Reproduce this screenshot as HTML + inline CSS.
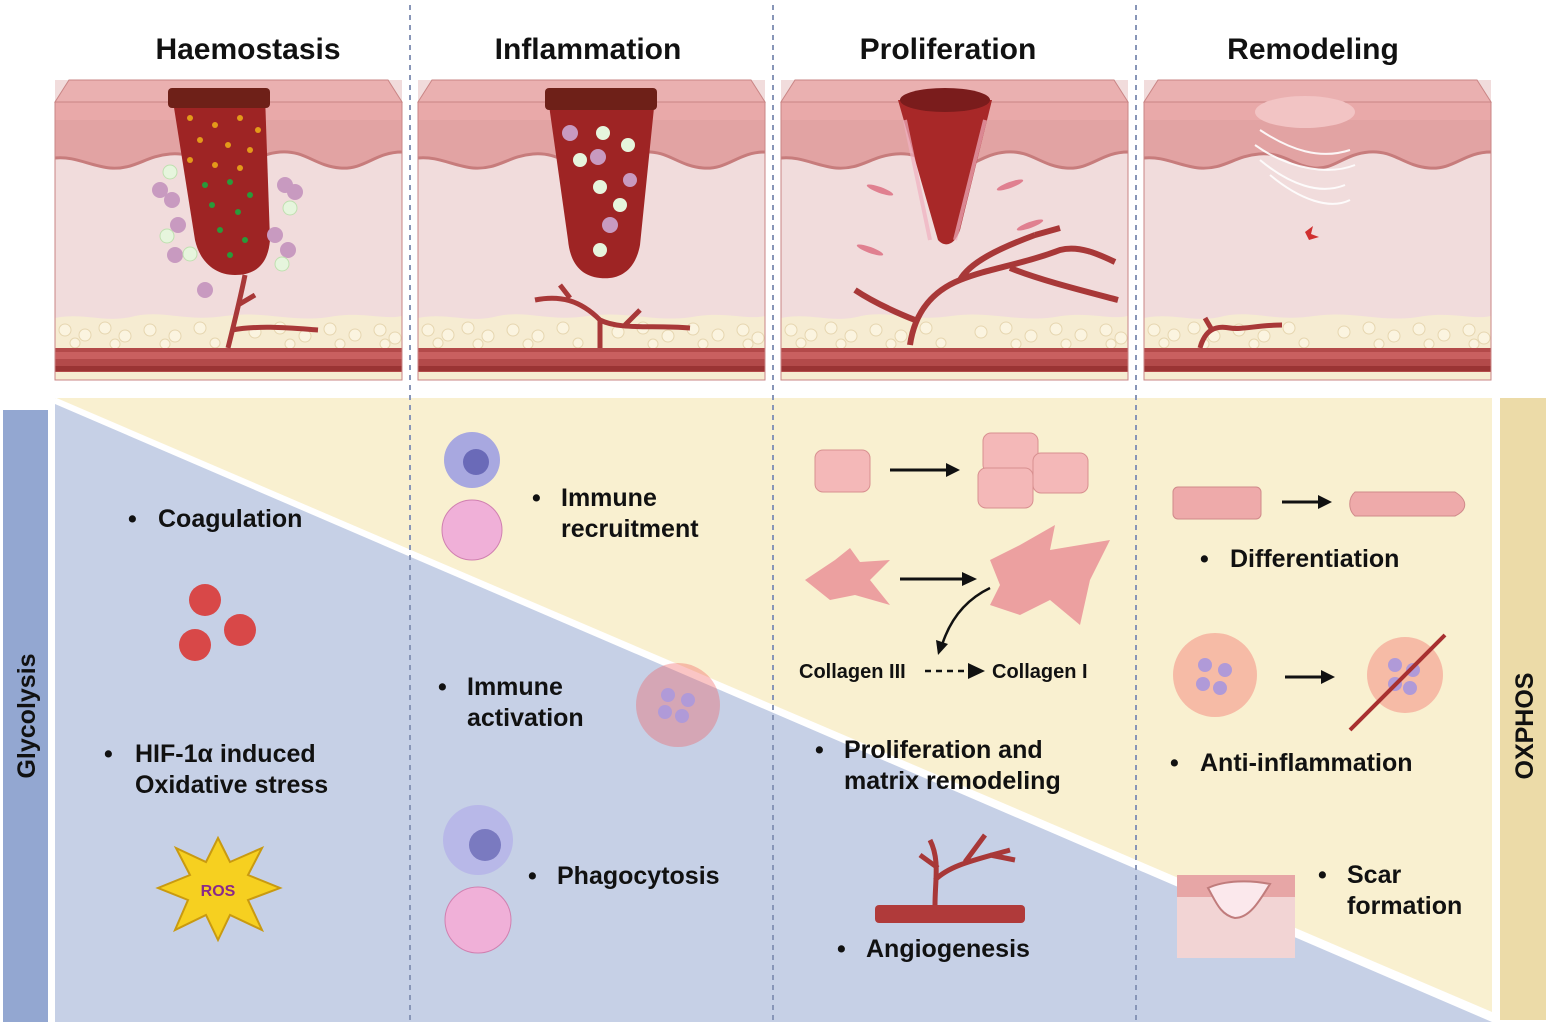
<!DOCTYPE html>
<html><head><meta charset="utf-8"><style>
body{margin:0;background:#fff;}
svg{display:block}
text{font-family:"Liberation Sans",sans-serif;font-weight:bold;}
</style></head><body>
<svg width="1549" height="1027" viewBox="0 0 1549 1027" xmlns="http://www.w3.org/2000/svg">
<defs>
<g id="skin">
  <rect x="0" y="0" width="347" height="300" fill="#f1dcdc"/>
  <polygon points="14,0 333,0 347,22 0,22" fill="#eab0b0" stroke="#c98585" stroke-width="1"/>
  <rect x="0" y="22" width="347" height="18" fill="#e9a9a9"/>
  <path d="M0,40 H347 V72 C320,72 310,90 285,88 C260,86 250,70 225,72 C200,74 190,90 170,88 C150,86 140,72 115,74 C90,76 80,90 55,88 C35,86 20,76 0,78 Z" fill="#e2a3a3"/>
  <path d="M0,78 C20,76 35,86 55,88 C80,90 90,76 115,74 C140,72 150,86 170,88 C190,90 200,74 225,72 C250,70 260,86 285,88 C310,90 320,72 347,72" fill="none" stroke="#c77c7c" stroke-width="3"/>
  <path d="M0,238 C30,232 50,244 80,236 C110,230 130,242 170,236 C210,230 240,244 280,236 C310,232 330,240 347,236 V270 H0 Z" fill="#f6ecd2"/>
  <g fill="#fbf4e0" stroke="#e6d6b0" stroke-width="1">
    <circle cx="10" cy="250" r="6"/><circle cx="30" cy="255" r="6"/><circle cx="50" cy="248" r="6"/><circle cx="70" cy="256" r="6"/><circle cx="95" cy="250" r="6"/><circle cx="120" cy="256" r="6"/><circle cx="145" cy="248" r="6"/><circle cx="200" cy="252" r="6"/><circle cx="225" cy="248" r="6"/><circle cx="250" cy="256" r="6"/><circle cx="275" cy="249" r="6"/><circle cx="300" cy="255" r="6"/><circle cx="325" cy="250" r="6"/><circle cx="340" cy="258" r="6"/>
    <circle cx="20" cy="263" r="5"/><circle cx="60" cy="264" r="5"/><circle cx="110" cy="264" r="5"/><circle cx="160" cy="263" r="5"/><circle cx="235" cy="264" r="5"/><circle cx="285" cy="264" r="5"/><circle cx="330" cy="264" r="5"/>
  </g>
  <rect x="0" y="268" width="347" height="24" fill="#b34a4a"/>
  <rect x="0" y="272" width="347" height="7" fill="#c96060"/>
  <rect x="0" y="286" width="347" height="5" fill="#9a3434"/>
  <rect x="0" y="292" width="347" height="8" fill="#f6ecd2"/>
  <rect x="0" y="22" width="347" height="278" fill="none" stroke="#c98585" stroke-width="1"/>
</g>
</defs>

<!-- titles -->
<text x="248" y="59" font-size="30" text-anchor="middle" fill="#111">Haemostasis</text>
<text x="588" y="59" font-size="30" text-anchor="middle" fill="#111">Inflammation</text>
<text x="948" y="59" font-size="30" text-anchor="middle" fill="#111">Proliferation</text>
<text x="1313" y="59" font-size="30" text-anchor="middle" fill="#111">Remodeling</text>

<!-- bottom areas -->
<rect x="3" y="410" width="45" height="612" fill="#93a7d1"/>
<text transform="translate(35,716) rotate(-90)" font-size="25" text-anchor="middle" fill="#111">Glycolysis</text>
<rect x="1500" y="398" width="46" height="622" fill="#ecdba8"/>
<text transform="translate(1533,726) rotate(-90)" font-size="25" text-anchor="middle" fill="#111">OXPHOS</text>
<polygon points="55,398 1492,398 1492,1012" fill="#f9f0d0"/>
<polygon points="55,404 1492,1022 55,1022" fill="#c6d0e6"/>
<line x1="55" y1="400" x2="1492" y2="1017" stroke="#fff" stroke-width="5"/>

<!-- skin panels -->
<use href="#skin" x="55" y="80"/>
<use href="#skin" x="418" y="80"/>
<use href="#skin" x="781" y="80"/>
<use href="#skin" x="1144" y="80"/>

<!-- panel 1 wound -->
<path d="M172,95 L265,95 L270,240 C268,265 255,275 235,275 C215,275 200,262 195,240 Z" fill="#9e2424"/>
<rect x="168" y="88" width="102" height="20" rx="4" fill="#6e2018"/>
<g fill="#e39a1a"><circle cx="190" cy="118" r="3"/><circle cx="215" cy="125" r="3"/><circle cx="240" cy="118" r="3"/><circle cx="258" cy="130" r="3"/><circle cx="200" cy="140" r="3"/><circle cx="228" cy="145" r="3"/><circle cx="250" cy="150" r="3"/><circle cx="190" cy="160" r="3"/><circle cx="215" cy="165" r="3"/><circle cx="240" cy="168" r="3"/></g>
<g fill="#2a9a3a"><circle cx="205" cy="185" r="3"/><circle cx="230" cy="182" r="3"/><circle cx="250" cy="195" r="3"/><circle cx="212" cy="205" r="3"/><circle cx="238" cy="212" r="3"/><circle cx="220" cy="230" r="3"/><circle cx="245" cy="240" r="3"/><circle cx="230" cy="255" r="3"/></g>
<g fill="#c89ac0"><circle cx="160" cy="190" r="8"/><circle cx="172" cy="200" r="8"/><circle cx="178" cy="225" r="8"/><circle cx="175" cy="255" r="8"/><circle cx="285" cy="185" r="8"/><circle cx="295" cy="192" r="8"/><circle cx="275" cy="235" r="8"/><circle cx="288" cy="250" r="8"/><circle cx="205" cy="290" r="8"/></g>
<g fill="#e6f5dd" stroke="#bfe0b0"><circle cx="170" cy="172" r="7"/><circle cx="167" cy="236" r="7"/><circle cx="190" cy="254" r="7"/><circle cx="290" cy="208" r="7"/><circle cx="282" cy="264" r="7"/></g>
<path d="M245,275 C240,300 235,320 228,348 M238,305 L255,295 M232,330 C260,325 290,328 318,330" stroke="#a83838" stroke-width="5" fill="none"/>

<!-- panel 2 wound -->
<path d="M548,98 L655,98 L640,245 C635,272 618,280 600,278 C580,276 570,262 568,240 Z" fill="#9e2424"/>
<rect x="545" y="88" width="112" height="22" rx="4" fill="#6e2018"/>
<g fill="#c89ac0"><circle cx="570" cy="133" r="8"/><circle cx="598" cy="157" r="8"/><circle cx="610" cy="225" r="8"/><circle cx="630" cy="180" r="7"/></g>
<g fill="#e6f5dd"><circle cx="603" cy="133" r="7"/><circle cx="580" cy="160" r="7"/><circle cx="628" cy="145" r="7"/><circle cx="600" cy="187" r="7"/><circle cx="620" cy="205" r="7"/><circle cx="600" cy="250" r="7"/></g>
<path d="M535,300 C560,295 580,300 600,320 C620,330 650,325 690,328 M600,320 L600,348 M570,298 L560,285 M625,325 L640,310" stroke="#a83838" stroke-width="5" fill="none"/>

<!-- panel 3 wound -->
<path d="M898,100 L992,100 L960,230 C955,245 945,248 938,240 Z" fill="#a82828"/>
<ellipse cx="945" cy="100" rx="45" ry="12" fill="#7a1c1c"/>
<path d="M905,120 L930,240" stroke="#f0b0c0" stroke-width="4" opacity=".7"/>
<path d="M985,120 L955,240" stroke="#f0b0c0" stroke-width="4" opacity=".7"/>
<path d="M910,345 C915,310 935,290 960,280 C990,268 1020,265 1060,250 C1080,245 1100,255 1115,262 M960,280 C970,262 1000,248 1035,235 M915,320 C890,310 870,300 855,290 M1010,268 C1040,280 1080,290 1118,300 M1035,235 L1060,228" stroke="#a83838" stroke-width="6" fill="none"/>
<g fill="#e08090"><ellipse cx="880" cy="190" rx="14" ry="3" transform="rotate(20 880 190)"/><ellipse cx="1010" cy="185" rx="14" ry="3" transform="rotate(-20 1010 185)"/><ellipse cx="1030" cy="225" rx="14" ry="3" transform="rotate(-20 1030 225)"/><ellipse cx="870" cy="250" rx="14" ry="3" transform="rotate(20 870 250)"/></g>

<!-- panel 4 -->
<ellipse cx="1305" cy="112" rx="50" ry="16" fill="#f2c4c4"/>
<g stroke="#fff" stroke-width="2" fill="none" opacity=".9"><path d="M1260,130 C1290,150 1320,160 1350,150"/><path d="M1255,145 C1290,170 1330,175 1355,165"/><path d="M1260,160 C1290,185 1320,195 1345,185"/><path d="M1270,175 C1300,200 1330,210 1350,200"/></g>
<path d="M1305,232 l8,-6 l-2,8 l8,3 l-10,3 z" fill="#d03030"/>
<path d="M1200,348 C1205,330 1215,325 1230,328 C1240,330 1260,325 1282,325 M1212,330 L1205,318" stroke="#a83838" stroke-width="5" fill="none"/>

<!-- dashed dividers -->
<g stroke="#8896b8" stroke-width="2" stroke-dasharray="5,5"><line x1="410" y1="5" x2="410" y2="1020"/><line x1="773" y1="5" x2="773" y2="1020"/><line x1="1136" y1="5" x2="1136" y2="1020"/></g>

<g font-size="25" fill="#111">
<!-- column 1 -->
<text x="128" y="527">•</text><text x="158" y="527">Coagulation</text>
<text x="104" y="762">•</text><text x="135" y="762">HIF-1α induced</text>
<text x="135" y="793">Oxidative stress</text>
<!-- column 2 -->
<text x="532" y="506">•</text><text x="561" y="506">Immune</text>
<text x="561" y="537">recruitment</text>
<text x="438" y="695">•</text><text x="467" y="695">Immune</text>
<text x="467" y="726">activation</text>
<text x="528" y="884">•</text><text x="557" y="884">Phagocytosis</text>
<!-- column 3 -->
<text x="815" y="758">•</text><text x="844" y="758">Proliferation and</text>
<text x="844" y="789">matrix remodeling</text>
<text x="837" y="957">•</text><text x="866" y="957">Angiogenesis</text>
<!-- column 4 -->
<text x="1200" y="567">•</text><text x="1230" y="567">Differentiation</text>
<text x="1170" y="771">•</text><text x="1200" y="771">Anti-inflammation</text>
<text x="1318" y="883">•</text><text x="1347" y="883">Scar</text>
<text x="1347" y="914">formation</text>
</g>

<!-- column 1 graphics -->
<g fill="#d84848"><circle cx="205" cy="600" r="16"/><circle cx="240" cy="630" r="16"/><circle cx="195" cy="645" r="16"/></g>
<polygon points="218,838 230,862 262,848 248,875 280,888 248,900 262,930 230,915 218,940 206,915 175,930 188,900 158,888 190,875 176,848 206,862" fill="#f6d020" stroke="#c99a10" stroke-width="2"/>
<text x="218" y="896" font-size="16" text-anchor="middle" fill="#8a2a8a">ROS</text>

<!-- column 2 graphics -->
<circle cx="472" cy="460" r="28" fill="#a8a8e0"/><circle cx="476" cy="462" r="13" fill="#6a6ab8"/>
<circle cx="472" cy="530" r="30" fill="#f0b0d8" stroke="#d080b0"/>
<circle cx="678" cy="705" r="42" fill="#f05858" opacity=".35"/>
<g fill="#b09ad8"><circle cx="668" cy="695" r="7"/><circle cx="688" cy="700" r="7"/><circle cx="665" cy="712" r="7"/><circle cx="682" cy="716" r="7"/></g>
<circle cx="478" cy="840" r="35" fill="#b8b8e8"/><circle cx="485" cy="845" r="16" fill="#7a7ac0"/>
<circle cx="478" cy="920" r="33" fill="#f0b0d8" stroke="#d080b0"/>

<!-- column 3 graphics -->
<rect x="815" y="450" width="55" height="42" rx="8" fill="#f4b8b8" stroke="#d89090"/>
<line x1="890" y1="470" x2="955" y2="470" stroke="#111" stroke-width="3"/><polygon points="960,470 946,463 946,477" fill="#111"/>
<rect x="983" y="433" width="55" height="40" rx="8" fill="#f4b8b8" stroke="#d89090"/>
<rect x="1033" y="453" width="55" height="40" rx="8" fill="#f4b8b8" stroke="#d89090"/>
<rect x="978" y="468" width="55" height="40" rx="8" fill="#f4b8b8" stroke="#d89090"/>
<polygon points="805,580 835,560 850,548 860,562 890,560 870,580 890,605 855,595 830,600" fill="#eca0a0"/>
<line x1="900" y1="579" x2="970" y2="579" stroke="#111" stroke-width="3"/><polygon points="977,579 962,572 962,586" fill="#111"/>
<polygon points="990,560 1020,545 1055,525 1050,550 1080,545 1110,540 1090,580 1080,625 1050,600 1020,615 990,605 1000,585" fill="#eca0a0"/>
<path d="M990,588 C965,600 950,620 942,645" stroke="#111" stroke-width="2.5" fill="none"/><polygon points="938,655 936,640 948,644" fill="#111"/>
<text x="799" y="678" font-size="20" fill="#111" font-weight="normal">Collagen III</text>
<line x1="925" y1="671" x2="968" y2="671" stroke="#111" stroke-width="2.5" stroke-dasharray="6,5"/><polygon points="985,671 968,663 968,679" fill="#111"/>
<text x="992" y="678" font-size="20" fill="#111" font-weight="normal">Collagen I</text>
<rect x="875" y="905" width="150" height="18" rx="4" fill="#b03a3a"/>
<path d="M935,905 C935,880 940,860 930,840 M935,880 C950,865 975,860 1010,850 M938,868 L920,855 M965,862 L985,835 M990,855 L1015,860" stroke="#a83838" stroke-width="5" fill="none"/>

<!-- column 4 graphics -->
<rect x="1173" y="487" width="88" height="32" rx="5" fill="#eeaaaa" stroke="#d08a8a"/>
<line x1="1282" y1="502" x2="1322" y2="502" stroke="#111" stroke-width="3"/><polygon points="1332,502 1318,495 1318,509" fill="#111"/>
<path d="M1355,492 H1455 C1468,500 1468,510 1455,516 H1355 C1348,510 1348,498 1355,492 Z" fill="#eeaaaa" stroke="#d08a8a"/>
<circle cx="1215" cy="675" r="42" fill="#f05858" opacity=".35"/>
<g fill="#b09ad8"><circle cx="1205" cy="665" r="7"/><circle cx="1225" cy="670" r="7"/><circle cx="1203" cy="684" r="7"/><circle cx="1220" cy="688" r="7"/></g>
<line x1="1285" y1="677" x2="1325" y2="677" stroke="#111" stroke-width="3"/><polygon points="1335,677 1321,670 1321,684" fill="#111"/>
<circle cx="1405" cy="675" r="38" fill="#f05858" opacity=".35"/>
<g fill="#b09ad8"><circle cx="1395" cy="665" r="7"/><circle cx="1413" cy="670" r="7"/><circle cx="1395" cy="684" r="7"/><circle cx="1410" cy="688" r="7"/></g>
<line x1="1350" y1="730" x2="1445" y2="635" stroke="#a83030" stroke-width="4"/>
<rect x="1177" y="875" width="118" height="83" fill="#f2d4d4"/>
<rect x="1177" y="875" width="118" height="22" fill="#e7a6a6"/>
<path d="M1208,888 C1225,880 1250,880 1270,884 C1260,900 1250,918 1235,918 C1220,915 1215,900 1208,888 Z" fill="#fbe8ec" stroke="#c07c7c" stroke-width="2"/>
</svg>
</body></html>
